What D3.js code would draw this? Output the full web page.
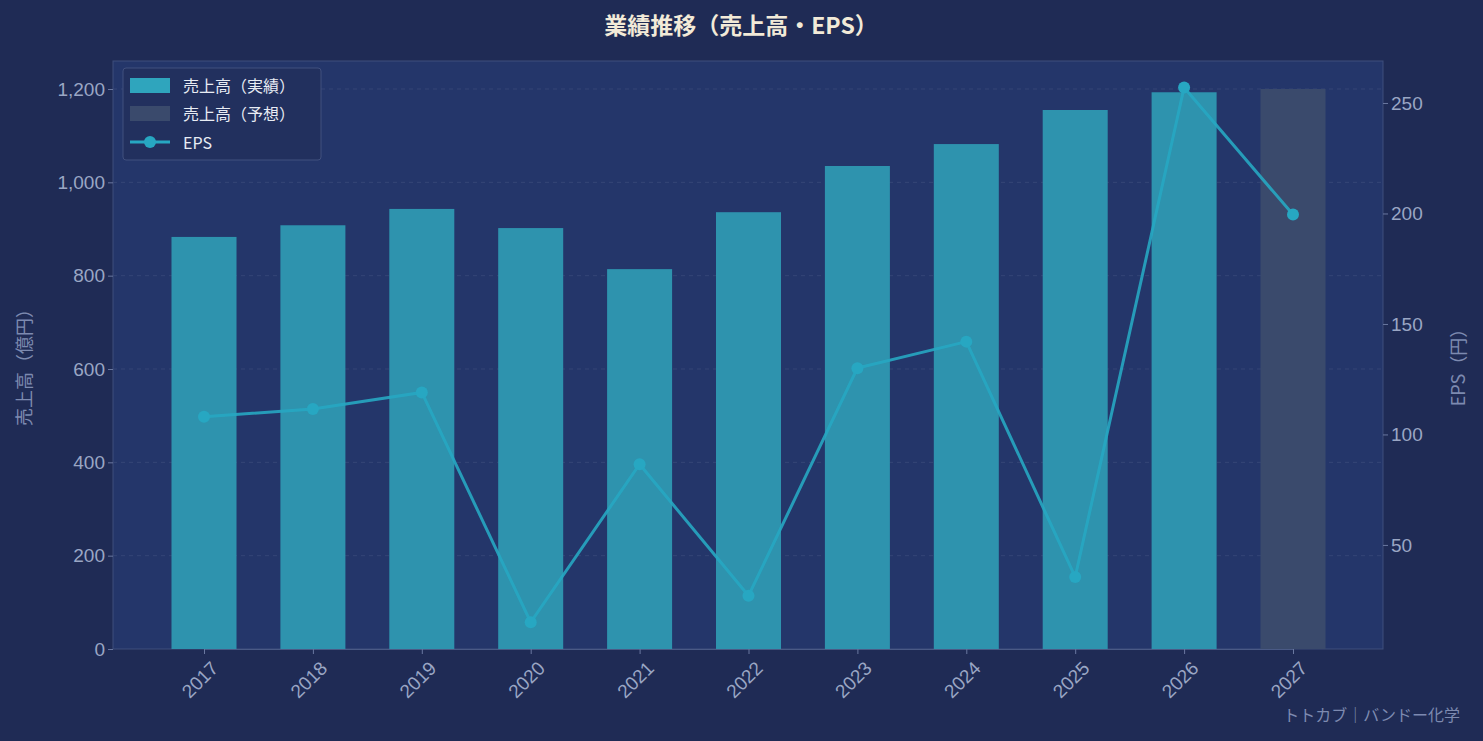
<!DOCTYPE html><html><head><meta charset="utf-8">
<script src="https://cdn.jsdelivr.net/npm/d3@7"></script>
<style>body{margin:0;background:#1f2b55;}svg{display:block;font-family:"Noto Sans CJK JP","Noto Sans",sans-serif;}</style>
</head><body><svg id="c" width="1483" height="741"></svg><script>
const years=["2017","2018","2019","2020","2021","2022","2023","2024","2025","2026","2027"];
const sales=[883,908,943,902,814,936,1035,1082,1155,1193,1200];
const forecast=[false,false,false,false,false,false,false,false,false,false,true];
const eps=[108,111.5,119,15,86.5,27,130,142,35.5,257,199.5];
const leftTicks=[0,200,400,600,800,1000,1200];
const rightTicks=[50,100,150,200,250];
const svg=d3.select("#c");
const L=113,R=1383,T=61,B=649;
const idx=d3.scaleLinear().domain([0,10]).range([204,1293]);
const y=d3.scaleLinear().domain([0,1260]).range([B,T]);
const y2=d3.scaleLinear().domain([2.9,269]).range([B,T]);
svg.append("rect").attr("x",L).attr("y",T).attr("width",R-L).attr("height",B-T).attr("fill","#24366a").attr("stroke","#3e4f7c");
svg.append("g").selectAll("line").data(leftTicks.slice(1)).join("line").attr("x1",L).attr("x2",R).attr("y1",d=>y(d)).attr("y2",d=>y(d)).attr("stroke","#3a4a7a").attr("stroke-dasharray","4,4").attr("stroke-width",0.8);
const bw=65;
svg.append("g").selectAll("rect").data(years).join("rect").attr("x",(d,i)=>idx(i)-bw/2).attr("width",bw).attr("y",(d,i)=>y(sales[i])).attr("height",(d,i)=>B-y(sales[i])).attr("fill",(d,i)=>forecast[i]?"#3a4a6c":"#2e93ae");
const line=d3.line().x((d,i)=>idx(i)).y(d=>y2(d));
svg.append("path").attr("d",line(eps)).attr("fill","none").attr("stroke","#27a7c2").attr("stroke-width",3).attr("opacity",0.9);
svg.append("g").selectAll("circle").data(eps).join("circle").attr("cx",(d,i)=>idx(i)).attr("cy",d=>y2(d)).attr("r",6).attr("fill","#27a7c2");
const tc="#9aa6c4";
const ax=d3.axisLeft(y).tickValues(leftTicks).tickSize(5);
const g1=svg.append("g").attr("transform",`translate(${L},0)`).call(ax);
const ax2=d3.axisRight(y2).tickValues(rightTicks).tickSize(5);
const g2=svg.append("g").attr("transform",`translate(${R},0)`).call(ax2);
const xs=d3.scaleOrdinal().domain(years).range(years.map((d,i)=>idx(i)));
const ax3=d3.axisBottom(d3.scalePoint().domain(years).range([idx(0),idx(10)])).tickSize(5);
const g3=svg.append("g").attr("transform",`translate(0,${B})`).call(ax3);
g3.selectAll("text").attr("transform","rotate(-45)").attr("text-anchor","end").attr("dx","-0.2em").attr("dy","0.9em");
[g1,g2,g3].forEach(g=>{g.select(".domain").attr("stroke","#4a5a86");g.selectAll("line").attr("stroke","#6a78a0");g.selectAll("text").attr("fill",tc).attr("font-size",19);});
g1.select(".domain").remove();g2.select(".domain").remove();
svg.append("text").attr("x",741).attr("y",34).attr("text-anchor","middle").attr("fill","#f2ead8").attr("font-size",23).attr("font-weight","bold").text("業績推移（売上高・EPS）");
svg.append("text").attr("transform","translate(31,363) rotate(-90)").attr("text-anchor","middle").attr("fill","#7d8ab0").attr("font-size",18).text("売上高（億円）");
svg.append("text").attr("transform","translate(1465,363) rotate(-90)").attr("text-anchor","middle").attr("fill","#7d8ab0").attr("font-size",18).text("EPS（円）");
svg.append("text").attr("x",1460).attr("y",721).attr("text-anchor","end").attr("fill","#7d8ab0").attr("font-size",16).text("トトカブ｜バンドー化学");
const lg=svg.append("g");
lg.append("rect").attr("x",123).attr("y",68).attr("width",198).attr("height",92).attr("rx",3).attr("fill","#22305e").attr("stroke","#41507e");
lg.append("rect").attr("x",130).attr("y",78).attr("width",40).attr("height",15).attr("fill","#2fa5bd");
lg.append("rect").attr("x",130).attr("y",106).attr("width",40).attr("height",15).attr("fill","#3a4a6c");
lg.append("line").attr("x1",130).attr("x2",170).attr("y1",142).attr("y2",142).attr("stroke","#27a7c2").attr("stroke-width",3);
lg.append("circle").attr("cx",150).attr("cy",142).attr("r",6).attr("fill","#27a7c2");
[["売上高（実績）",86],["売上高（予想）",114],["EPS",143]].forEach(([t,yy])=>lg.append("text").attr("x",183).attr("y",yy).attr("dy","0.35em").attr("fill","#e8ecf4").attr("font-size",16).text(t));
</script></body></html>
